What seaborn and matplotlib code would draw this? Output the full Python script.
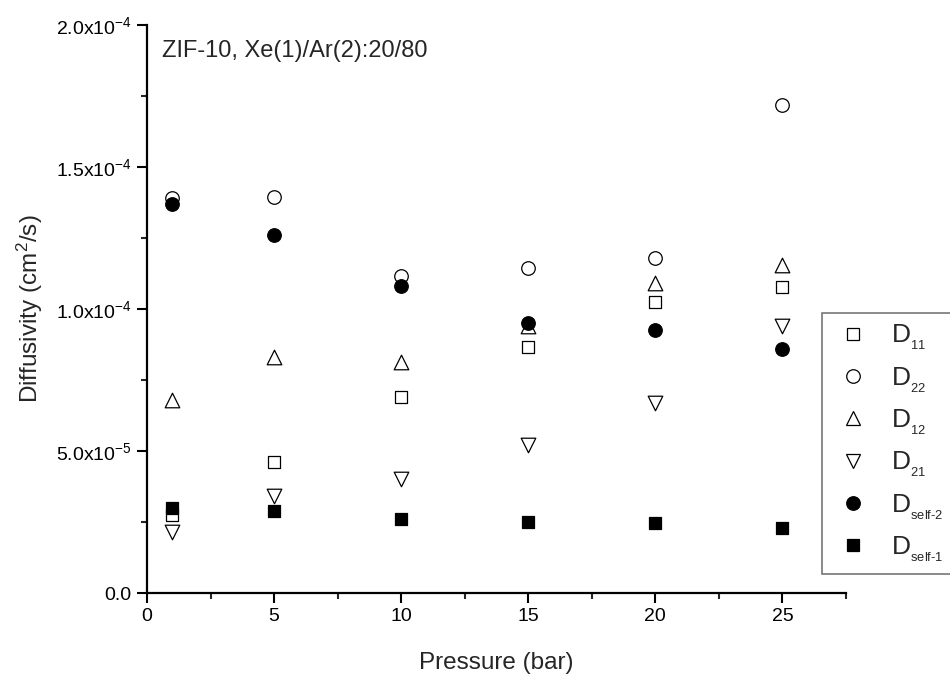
import matplotlib
matplotlib.use("Agg")
import matplotlib.pyplot as plt
import seaborn as sns
import pandas as pd
import numpy as np
from matplotlib.ticker import MultipleLocator, FixedLocator, FuncFormatter

pressure = [1, 5, 10, 15, 20, 25]
D11 = [2.75e-5, 4.6e-5, 6.9e-5, 8.66e-5, 1.025e-4, 1.077e-4]
D22 = [1.39e-4, 1.395e-4, 1.115e-4, 1.144e-4, 1.18e-4, 1.72e-4]
D12 = [6.8e-5, 8.3e-5, 8.15e-5, 9.4e-5, 1.09e-4, 1.155e-4]
D21 = [2.15e-5, 3.4e-5, 4.0e-5, 5.2e-5, 6.7e-5, 9.4e-5]
Dself2 = [1.37e-4, 1.26e-4, 1.08e-4, 9.5e-5, 9.26e-5, 8.6e-5]
Dself1 = [3.0e-5, 2.9e-5, 2.6e-5, 2.5e-5, 2.45e-5, 2.3e-5]

series_names = ["D11", "D22", "D12", "D21", "Dself-2", "Dself-1"]
series_values = [D11, D22, D12, D21, Dself2, Dself1]
subscripts = ["11", "22", "12", r"21", r"self\text{-}2", r"self\text{-}1"]
legend_labels = [r"D$_{_{\mathregular{%s}}}$" % s for s in subscripts]
markers = ["s", "o", "^", "v", "o", "s"]
faces = ["white", "white", "white", "white", "black", "black"]
sizes = [70, 95, 110, 110, 95, 70]

sns.set_style("white")
plt.rcParams["font.family"] = ["Liberation Sans", "DejaVu Sans"]
plt.rcParams["mathtext.fontset"] = "custom"
plt.rcParams["mathtext.rm"] = "Liberation Sans"
plt.rcParams["mathtext.it"] = "Liberation Sans"
plt.rcParams["mathtext.default"] = "regular"

fig = plt.figure(figsize=(9.5, 6.75), dpi=100)
ax = fig.add_axes([147/950, 1 - 593/675, (846-147)/950, (593-25)/675])

rows = []
for name, vals in zip(series_names, series_values):
    for p, v in zip(pressure, vals):
        rows.append({"Pressure": p, "D": v, "series": name})
df = pd.DataFrame(rows)

handles = []
for name, m, fc, s in zip(series_names, markers, faces, sizes):
    sub = df[df["series"] == name]
    sns.scatterplot(data=sub, x="Pressure", y="D", marker=m, s=s,
                    facecolor=fc, edgecolor="black", linewidth=0.9,
                    ax=ax, legend=False, zorder=3)
    h = plt.Line2D([], [], linestyle="none", marker=m, markersize=np.sqrt(s),
                   markerfacecolor=fc, markeredgecolor="black", markeredgewidth=0.9)
    handles.append(h)

ax.set_xlim(0, 27.5)
ax.set_ylim(0, 2.0e-4)
ax.xaxis.set_major_locator(MultipleLocator(5))
ax.xaxis.set_minor_locator(MultipleLocator(2.5))
ax.yaxis.set_major_locator(FixedLocator([0, 5e-5, 1e-4, 1.5e-4, 2e-4]))
ax.yaxis.set_minor_locator(FixedLocator([2.5e-5, 7.5e-5, 1.25e-4, 1.75e-4]))

ytick_labels = {0: "0.0", 1: r"5.0x10$^{\mathregular{-5}}$", 2: r"1.0x10$^{\mathregular{-4}}$",
                3: r"1.5x10$^{\mathregular{-4}}$", 4: r"2.0x10$^{\mathregular{-4}}$"}
ax.yaxis.set_major_formatter(FuncFormatter(lambda v, pos: ytick_labels.get(int(round(v / 5e-5)), "")))
ax.xaxis.set_major_formatter(FuncFormatter(lambda v, pos: f"{int(round(v))}"))

for sp in ["top", "right"]:
    ax.spines[sp].set_visible(False)
for sp in ["left", "bottom"]:
    ax.spines[sp].set_linewidth(1.6)
    ax.spines[sp].set_color("black")

ax.tick_params(axis="both", which="major", direction="out", length=7, width=1.5,
               labelsize=14, colors="black", left=True, bottom=True, pad=4)
ax.tick_params(axis="both", which="minor", direction="out", length=4, width=1.5,
               left=True, bottom=True)

ax.set_xlabel("Pressure (bar)", fontsize=17.5, labelpad=19)
ax.set_ylabel(r"Diffusivity (cm$^{\mathregular{2}}$/s)", fontsize=17.5, labelpad=8)

ax.text(0.022, 0.955, "ZIF-10, Xe(1)/Ar(2):20/80", transform=ax.transAxes,
        fontsize=17, va="center", ha="left")

leg = fig.legend(handles=handles, labels=legend_labels, loc="upper left",
                 bbox_to_anchor=(822/950, 1 - 313/675), frameon=True,
                 fancybox=False, fontsize=19, handlelength=1.6, handletextpad=0.65,
                 labelspacing=0.5, borderpad=0.38, borderaxespad=0)
leg.get_frame().set_edgecolor("#555555")
leg.get_frame().set_linewidth(1.2)

fig.savefig("out.png", dpi=100)
